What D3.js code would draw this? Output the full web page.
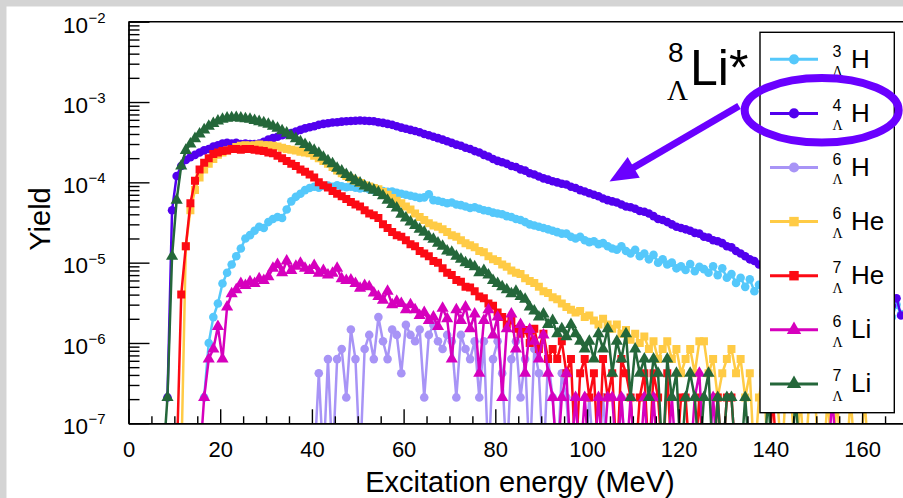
<!DOCTYPE html>
<html>
<head>
<meta charset="utf-8">
<script src="https://cdn.jsdelivr.net/npm/d3@7"></script>
<style>
  body { margin: 0; background: #fff; }
  svg { display: block; }
  text { font-family: "Liberation Sans", Arial, sans-serif; fill: #000; }
</style>
</head>
<body>
<svg id="chart" width="903" height="498"></svg>
<script>
// yields per 1 MeV bin, first bin centre given by *Start
const h3Start = 16.5;
const h3 = [2.1e-7, 1.0e-6, 2.1e-6, 3.1e-6, 5.5e-6, 7.5e-6, 9.5e-6, 1.2e-5, 1.5e-5, 2.0e-5,
  2.2e-5, 2.5e-5, 2.8e-5, 2.7e-5, 3.2e-5, 3.5e-5, 3.7e-5, 3.6e-5, 4.6e-5, 5.8e-5,
  6.6e-5, 7.2e-5, 8.0e-5, 8.5e-5, 8.8e-5, 8.6e-5, 9.0e-5, 9.1e-5, 8.8e-5, 9.2e-5,
  8.9e-5, 8.7e-5, 8.8e-5, 8.6e-5, 8.4e-5, 8.5e-5, 8.2e-5, 8.0e-5, 8.1e-5, 7.8e-5,
  7.6e-5, 7.7e-5, 7.4e-5, 7.2e-5, 7.0e-5, 6.8e-5, 6.6e-5, 6.4e-5, 6.5e-5, 7.1e-5,
  6.0e-5, 5.9e-5, 5.7e-5, 5.5e-5, 5.6e-5, 5.3e-5, 5.2e-5, 5.0e-5, 4.8e-5, 4.9e-5,
  4.7e-5, 4.5e-5, 4.4e-5, 4.2e-5, 4.1e-5, 4.0e-5, 3.8e-5, 3.7e-5, 3.5e-5, 3.4e-5,
  3.2e-5, 3.0e-5, 2.9e-5, 2.8e-5, 2.7e-5, 2.6e-5, 2.5e-5, 2.4e-5, 2.3e-5, 2.3e-5,
  2.1e-5, 2.0e-5, 2.1e-5, 1.9e-5, 1.8e-5, 1.85e-5, 1.7e-5, 1.75e-5, 1.6e-5, 1.5e-5,
  1.45e-5, 1.6e-5, 1.4e-5, 1.3e-5, 1.45e-5, 1.2e-5, 1.3e-5, 1.1e-5, 1.25e-5, 1.0e-5,
  1.1e-5, 9.5e-6, 1.0e-5, 8.5e-6, 9.0e-6, 8.1e-6, 9.6e-6, 7.8e-6, 8.9e-6, 8.3e-6,
  7.5e-6, 9.0e-6, 7.0e-6, 8.5e-6, 6.5e-6, 7.2e-6, 5.6e-6, 6.5e-6, 5.0e-6, 6.2e-6,
  4.4e-6, 5.3e-6, 4.8e-6, 5.0e-6, 4.6e-6, 4.4e-6, 4.7e-6, 4.1e-6, 4.3e-6, 3.9e-6,
  4.0e-6, 3.7e-6, 3.8e-6, 3.5e-6, 3.6e-6, 3.3e-6, 3.4e-6, 3.1e-6, 3.2e-6, 3.0e-6,
  3.1e-6, 2.9e-6, 2.8e-6, 2.9e-6, 2.7e-6, 2.8e-6, 2.6e-6, 2.7e-6, 2.5e-6, 2.7e-6,
  2.1e-6, 3.0e-6, 2.3e-6];

const h4Start = 8.5;
const h4 = [2.1e-7, 4.5e-5, 1.2e-4, 1.6e-4, 1.9e-4, 2.05e-4, 2.2e-4, 2.35e-4, 2.5e-4, 2.6e-4,
  2.8e-4, 2.9e-4, 3.05e-4, 3.1e-4, 3.05e-4, 3.1e-4, 3.0e-4, 3.05e-4, 3.0e-4, 3.0e-4,
  3.05e-4, 3.2e-4, 3.4e-4, 3.55e-4, 3.7e-4, 3.85e-4, 4.0e-4, 4.1e-4, 4.3e-4, 4.5e-4,
  4.7e-4, 4.85e-4, 5.0e-4, 5.2e-4, 5.35e-4, 5.45e-4, 5.55e-4, 5.6e-4, 5.7e-4, 5.75e-4,
  5.8e-4, 5.85e-4, 5.9e-4, 5.85e-4, 5.8e-4, 5.75e-4, 5.6e-4, 5.5e-4, 5.35e-4, 5.2e-4,
  5.0e-4, 4.8e-4, 4.65e-4, 4.5e-4, 4.35e-4, 4.2e-4, 4.0e-4, 3.85e-4, 3.7e-4, 3.55e-4,
  3.4e-4, 3.25e-4, 3.1e-4, 2.95e-4, 2.85e-4, 2.7e-4, 2.6e-4, 2.45e-4, 2.35e-4, 2.2e-4,
  2.1e-4, 1.95e-4, 1.85e-4, 1.78e-4, 1.7e-4, 1.6e-4, 1.55e-4, 1.45e-4, 1.4e-4, 1.3e-4,
  1.25e-4, 1.18e-4, 1.12e-4, 1.08e-4, 1.03e-4, 1.0e-4, 9.6e-5, 9.4e-5, 8.8e-5, 8.5e-5,
  8.0e-5, 7.7e-5, 7.3e-5, 7.0e-5, 6.7e-5, 6.3e-5, 6.0e-5, 5.8e-5, 5.6e-5, 5.3e-5,
  5.0e-5, 4.9e-5, 4.7e-5, 4.4e-5, 4.3e-5, 4.1e-5, 3.8e-5, 3.5e-5, 3.4e-5, 3.2e-5,
  3.0e-5, 2.8e-5, 2.7e-5, 2.6e-5, 2.5e-5, 2.35e-5, 2.3e-5, 2.1e-5, 2.05e-5, 1.9e-5,
  1.85e-5, 1.75e-5, 1.6e-5, 1.55e-5, 1.4e-5, 1.3e-5, 1.2e-5, 1.1e-5, 1.05e-5, 9.5e-6,
  9.0e-6, 8.6e-6, 8.2e-6, 7.8e-6, 7.4e-6, 7.1e-6, 6.8e-6, 6.4e-6, 6.1e-6, 5.8e-6,
  5.6e-6, 5.3e-6, 5.1e-6, 4.9e-6, 4.7e-6, 4.5e-6, 4.3e-6, 4.1e-6, 4.0e-6, 3.8e-6,
  3.7e-6, 3.6e-6, 3.5e-6, 3.4e-6, 3.3e-6, 3.2e-6, 3.1e-6, 3.0e-6, 2.9e-6, 3.6e-6,
  2.2e-6];

const h6Start = 40.5;
const h6 = [0, 4.2e-7, 0, 6.3e-7, 0, 6.3e-7, 8.4e-7, 2.1e-7, 1.47e-6, 6.3e-7,
  0, 8.4e-7, 1.26e-6, 6.3e-7, 2.1e-6, 1.05e-6, 6.3e-7, 1.47e-6, 1.26e-6, 4.2e-7,
  1.68e-6, 1.26e-6, 1.05e-6, 1.47e-6, 2.1e-7, 1.26e-6, 1.68e-6, 1.05e-6, 8.4e-7, 1.26e-6,
  1.05e-6, 2.1e-7, 1.26e-6, 8.4e-7, 6.3e-7, 1.05e-6, 2.1e-7, 1.05e-6, 0, 6.3e-7,
  1.05e-6, 4.2e-7, 0, 6.3e-7, 1.05e-6, 2.1e-7, 6.3e-7, 0, 8.4e-7, 4.2e-7,
  0, 6.3e-7, 2.1e-7, 0, 4.2e-7, 2.1e-7, 0, 2.1e-7, 0, 0,
  2.1e-7, 0, 0, 2.1e-7, 0, 0, 0, 2.1e-7, 0];

const he6Start = 11.5;
const he6 = [0, 1.6e-5, 4.5e-5, 8.0e-5, 1.15e-4, 1.45e-4, 1.7e-4, 1.95e-4, 2.2e-4, 2.35e-4,
  2.5e-4, 2.6e-4, 2.75e-4, 2.85e-4, 2.9e-4, 2.85e-4, 2.9e-4, 2.95e-4, 2.9e-4, 2.9e-4,
  2.85e-4, 2.8e-4, 2.7e-4, 2.6e-4, 2.55e-4, 2.5e-4, 2.4e-4, 2.35e-4, 2.3e-4, 2.15e-4,
  2.0e-4, 1.85e-4, 1.7e-4, 1.55e-4, 1.4e-4, 1.3e-4, 1.2e-4, 1.12e-4, 1.05e-4, 9.8e-5,
  9.2e-5, 8.9e-5, 8.5e-5, 8.2e-5, 7.6e-5, 7.0e-5, 6.4e-5, 5.9e-5, 5.5e-5, 5.0e-5,
  4.6e-5, 4.1e-5, 3.7e-5, 3.4e-5, 3.1e-5, 2.9e-5, 2.8e-5, 2.6e-5, 2.4e-5, 2.2e-5,
  2.1e-5, 1.9e-5, 1.75e-5, 1.65e-5, 1.55e-5, 1.4e-5, 1.35e-5, 1.2e-5, 1.1e-5, 1.05e-5,
  9.5e-6, 8.9e-6, 8.0e-6, 7.5e-6, 7.2e-6, 6.4e-6, 5.9e-6, 5.6e-6, 5.0e-6, 4.4e-6,
  4.2e-6, 3.7e-6, 3.5e-6, 3.1e-6, 2.8e-6, 2.6e-6, 2.4e-6, 2.5e-6, 2.1e-6, 2.2e-6,
  1.9e-6, 1.7e-6, 2.0e-6, 1.7e-6, 1.5e-6, 1.7e-6, 1.3e-6, 1.45e-6, 1.1e-6, 1.3e-6,
  1.0e-6, 1.2e-6, 8.4e-7, 1.05e-6, 6.3e-7, 8.4e-7, 1.05e-6, 6.3e-7, 8.4e-7, 4.2e-7,
  6.3e-7, 8.4e-7, 4.2e-7, 1.05e-6, 1.05e-6, 4.2e-7, 6.3e-7, 2.1e-7, 4.2e-7, 6.3e-7,
  8.4e-7, 4.2e-7, 6.3e-7, 2.1e-7, 4.2e-7, 0, 2.1e-7, 4.2e-7, 0, 2.1e-7,
  2.1e-7, 0, 4.2e-7, 2.1e-7, 0, 2.1e-7, 0, 2.1e-7, 4.2e-7, 0,
  0, 2.1e-7, 0, 2.1e-7, 0, 0, 2.1e-7, 0, 0, 2.1e-7, 0];

const he7Start = 10.5;
const he7 = [0, 4.0e-6, 1.6e-5, 5.5e-5, 1.05e-4, 1.45e-4, 1.75e-4, 2.0e-4, 2.25e-4, 2.35e-4,
  2.45e-4, 2.5e-4, 2.6e-4, 2.6e-4, 2.55e-4, 2.6e-4, 2.6e-4, 2.55e-4, 2.5e-4, 2.45e-4,
  2.35e-4, 2.3e-4, 2.15e-4, 2.0e-4, 1.85e-4, 1.7e-4, 1.6e-4, 1.45e-4, 1.35e-4, 1.25e-4,
  1.15e-4, 1.0e-4, 9.2e-5, 8.6e-5, 7.8e-5, 7.2e-5, 6.7e-5, 6.2e-5, 5.7e-5, 5.3e-5,
  5.0e-5, 4.5e-5, 4.1e-5, 3.9e-5, 3.6e-5, 3.0e-5, 2.7e-5, 2.4e-5, 2.2e-5, 2.1e-5,
  1.9e-5, 1.7e-5, 1.6e-5, 1.4e-5, 1.3e-5, 1.2e-5, 1.05e-5, 1.0e-5, 8.5e-6, 7.5e-6,
  7.0e-6, 6.1e-6, 5.8e-6, 5.0e-6, 4.9e-6, 4.4e-6, 3.8e-6, 3.6e-6, 3.1e-6, 2.9e-6,
  2.4e-6, 2.1e-6, 1.7e-6, 1.9e-6, 1.5e-6, 1.3e-6, 1.45e-6, 1.0e-6, 1.5e-6, 8.4e-7,
  1.3e-6, 6.3e-7, 8.4e-7, 6.3e-7, 1.05e-6, 4.2e-7, 6.3e-7, 0, 4.2e-7, 6.3e-7,
  2.1e-7, 4.2e-7, 0, 6.3e-7, 2.1e-7, 4.2e-7, 0, 6.3e-7, 4.2e-7, 2.1e-7,
  0, 2.1e-7, 4.2e-7, 0, 4.2e-7, 2.1e-7, 0, 4.2e-7, 0, 0,
  2.1e-7, 2.1e-7, 0, 0, 2.1e-7, 0, 0, 0, 2.1e-7, 0,
  2.1e-7, 2.1e-7, 0, 0, 0, 0, 0, 0, 0, 0, 2.1e-7, 0];

const li6Start = 15.5;
const li6 = [0, 2.1e-7, 6.3e-7, 8.4e-7, 1.6e-6, 6.3e-7, 2.8e-6, 4.1e-6, 4.6e-6, 5.5e-6,
  5.2e-6, 5.8e-6, 5.5e-6, 6.3e-6, 6.0e-6, 6.7e-6, 8.5e-6, 9.5e-6, 7.5e-6, 1.05e-5,
  8.0e-6, 9.0e-6, 9.8e-6, 8.5e-6, 8.0e-6, 9.2e-6, 7.4e-6, 8.0e-6, 7.0e-6, 7.4e-6,
  8.5e-6, 6.3e-6, 6.0e-6, 6.1e-6, 5.5e-6, 4.8e-6, 5.2e-6, 5.0e-6, 4.2e-6, 3.8e-6,
  3.4e-6, 4.4e-6, 3.0e-6, 3.3e-6, 3.1e-6, 2.6e-6, 3.0e-6, 2.6e-6, 2.2e-6, 2.4e-6,
  1.9e-6, 2.1e-6, 1.6e-6, 2.7e-6, 2.0e-6, 6.3e-7, 2.6e-6, 1.9e-6, 2.8e-6, 1.5e-6,
  2.3e-6, 4.2e-7, 1.9e-6, 2.6e-6, 1.26e-6, 2.1e-6, 2.1e-7, 1.5e-6, 2.3e-6, 8.4e-7,
  1.7e-6, 4.2e-7, 1.47e-6, 1.05e-6, 6.3e-7, 1.26e-6, 4.2e-7, 2.1e-7, 0, 2.1e-7,
  4.2e-7, 0, 2.1e-7, 0, 2.1e-7, 0, 0, 2.1e-7, 0, 2.1e-7,
  2.1e-7, 0, 2.1e-7, 0, 2.1e-7, 0, 0, 2.1e-7, 0, 2.1e-7,
  0, 0, 0, 2.1e-7, 0, 0, 0, 0, 2.1e-7, 4.2e-7,
  0, 0, 2.1e-7, 0, 0, 0, 0, 0, 0, 0,
  0, 0, 0, 0, 0, 0, 0, 0, 0, 0, 0, 0, 0, 0, 0, 0, 0, 0, 2.1e-7, 0];

const li7Start = 7.5;
const li7 = [0, 2.1e-7, 1.2e-5, 6.0e-5, 1.6e-4, 2.5e-4, 3.0e-4, 3.5e-4, 4.0e-4, 4.5e-4,
  5.0e-4, 5.4e-4, 5.8e-4, 6.1e-4, 6.3e-4, 6.35e-4, 6.4e-4, 6.3e-4, 6.2e-4, 6.1e-4,
  5.9e-4, 5.7e-4, 5.5e-4, 5.3e-4, 5.0e-4, 4.7e-4, 4.4e-4, 4.1e-4, 3.8e-4, 3.5e-4,
  3.2e-4, 2.95e-4, 2.7e-4, 2.5e-4, 2.3e-4, 2.05e-4, 1.85e-4, 1.7e-4, 1.5e-4, 1.38e-4,
  1.25e-4, 1.15e-4, 1.05e-4, 9.8e-5, 9.0e-5, 8.5e-5, 8.0e-5, 7.5e-5, 6.8e-5, 6.0e-5,
  5.3e-5, 4.8e-5, 4.0e-5, 3.6e-5, 3.2e-5, 2.9e-5, 2.6e-5, 2.4e-5, 2.1e-5, 1.95e-5,
  1.75e-5, 1.6e-5, 1.4e-5, 1.35e-5, 1.2e-5, 1.1e-5, 1.0e-5, 9.5e-6, 8.9e-6, 7.5e-6,
  8.0e-6, 7.0e-6, 6.0e-6, 5.5e-6, 5.0e-6, 4.6e-6, 4.1e-6, 4.4e-6, 3.8e-6, 3.5e-6,
  2.8e-6, 2.5e-6, 2.1e-6, 2.3e-6, 1.7e-6, 1.9e-6, 1.3e-6, 1.5e-6, 1.2e-6, 1.7e-6,
  1.3e-6, 1.05e-6, 8.4e-7, 1.05e-6, 6.3e-7, 1.3e-6, 8.4e-7, 1.5e-6, 4.2e-7, 1.05e-6,
  6.3e-7, 1.3e-6, 2.1e-7, 8.4e-7, 4.2e-7, 6.3e-7, 2.1e-7, 6.3e-7, 4.2e-7, 0,
  6.3e-7, 2.1e-7, 4.2e-7, 0, 2.1e-7, 4.2e-7, 2.1e-7, 0, 2.1e-7, 4.2e-7,
  0, 2.1e-7, 0, 2.1e-7, 2.1e-7, 0, 0, 2.1e-7, 0, 0,
  0, 0, 2.1e-7, 0, 0, 0, 0, 0, 2.1e-7, 0];

const massNumbers = ["3", "4", "6", "6", "7", "6", "7"];
const elements = ["H", "H", "H", "He", "He", "Li", "Li"];
const xMajor = [0, 20, 40, 60, 80, 100, 120, 140, 160];
const yDecades = [-7, -6, -5, -4, -3, -2];

const series = [
  {start: h3Start, values: h3, color: "#55c8fb", symbol: d3.symbolCircle},
  {start: h4Start, values: h4, color: "#5200ee", symbol: d3.symbolCircle},
  {start: h6Start, values: h6, color: "#a894f6", symbol: d3.symbolCircle},
  {start: he6Start, values: he6, color: "#ffcb45", symbol: d3.symbolSquare},
  {start: he7Start, values: he7, color: "#fc0a14", symbol: d3.symbolSquare},
  {start: li6Start, values: li6, color: "#d600bd", symbol: d3.symbolTriangle},
  {start: li7Start, values: li7, color: "#24673a", symbol: d3.symbolTriangle}
];
series.forEach((s, i) => { s.mass = massNumbers[i]; s.elem = elements[i]; });

const svg = d3.select("#chart");
const W = 903, H = 498;
const plotLeft = 128.5, plotTop = 21.7, plotBottom = 423.3;

const x = d3.scaleLinear().domain([0, 169]).range([plotLeft, 903.4]);
const y = d3.scaleLog().domain([1e-7, 1e-2]).range([plotBottom, plotTop]);

// page frame
svg.append("rect").attr("width", W).attr("height", H).attr("fill", "#d4d4d4");
svg.append("rect").attr("x", 6.5).attr("y", 6.5).attr("width", W).attr("height", H).attr("fill", "#fff");

svg.append("clipPath").attr("id", "plotClip").append("rect")
  .attr("x", plotLeft).attr("y", plotTop).attr("width", W - plotLeft).attr("height", plotBottom - plotTop);

const plot = svg.append("g").attr("clip-path", "url(#plotClip)");

const line = d3.line()
  .x(d => x(d.e))
  .y(d => d.v > 0 ? y(d.v) : plotBottom + 40);

function sizeFor(sym) {
  return sym === d3.symbolCircle ? 58 : sym === d3.symbolSquare ? 64 : 64;
}

series.forEach(s => {
  const pts = s.values.map((v, i) => ({e: s.start + i, v: v}));
  const g = plot.append("g");
  g.append("path").datum(pts)
    .attr("d", line)
    .attr("fill", "none")
    .attr("stroke", s.color)
    .attr("stroke-width", 2.5)
    .attr("stroke-linejoin", "round");
  g.selectAll("path.mk").data(pts.filter(d => d.v > 0)).enter().append("path")
    .attr("class", "mk")
    .attr("transform", d => `translate(${x(d.e)},${y(d.v)})`)
    .attr("d", d3.symbol().type(s.symbol).size(sizeFor(s.symbol)))
    .attr("fill", s.color);
});

// axes
const yMinor = [];
yDecades.slice(0, -1).forEach(k => { for (let m = 2; m <= 9; m++) yMinor.push(m * Math.pow(10, k)); });
const yMajorVals = yDecades.map(k => Math.pow(10, k));

svg.append("g").attr("transform", `translate(${plotLeft},0)`)
  .call(d3.axisLeft(y).tickValues(yMinor).tickSize(-11).tickSizeOuter(0).tickFormat(""));
svg.append("g").attr("transform", `translate(${plotLeft},0)`)
  .call(d3.axisLeft(y).tickValues(yMajorVals).tickSize(-21).tickSizeOuter(0).tickFormat(""));

const xMinor = d3.range(5, 170, 5).filter(v => v % 20 !== 0);
svg.append("g").attr("transform", `translate(0,${plotBottom})`)
  .call(d3.axisBottom(x).tickValues(xMinor).tickSize(-7).tickSizeOuter(0).tickFormat(""));
svg.append("g").attr("class", "xaxis").attr("transform", `translate(0,${plotBottom})`)
  .call(d3.axisBottom(x).tickValues(xMajor).tickSize(-14).tickSizeOuter(0).tickPadding(17.8).tickFormat(d3.format("d")));

svg.selectAll(".domain, .tick line").attr("stroke", "#000").attr("stroke-width", 1.4);
svg.selectAll(".xaxis .tick text").attr("font-size", 22).attr("fill", "#000");

// top frame
svg.append("line").attr("x1", plotLeft).attr("x2", W).attr("y1", plotTop).attr("y2", plotTop)
  .attr("stroke", "#000").attr("stroke-width", 1.4);

// y labels 10^k
yDecades.forEach(k => {
  const ty = y(Math.pow(10, k));
  svg.append("text").attr("x", 88).attr("y", ty + 10.8).attr("text-anchor", "end")
    .attr("font-size", 22.5).text("10");
  svg.append("text").attr("x", 88.5).attr("y", ty + 1).attr("font-size", 15)
    .text("\u2212" + Math.abs(k));
});

// axis titles
svg.append("text").attr("x", 520).attr("y", 491.5).attr("text-anchor", "middle")
  .attr("font-size", 29).text("Excitation energy (MeV)");
svg.append("text").attr("transform", "translate(50,219) rotate(-90)").attr("text-anchor", "middle")
  .attr("font-size", 29).text("Yield");

// legend
const serif = "'Liberation Serif', 'DejaVu Serif', serif";
const lg = svg.append("g");
lg.append("rect").attr("x", 760).attr("y", 32.3).attr("width", 134.3).attr("height", 380.4)
  .attr("fill", "#fff").attr("stroke", "#000").attr("stroke-width", 1.4);
series.forEach((s, i) => {
  const ry = 59.3 + i * 54.1;
  lg.append("line").attr("x1", 770).attr("x2", 818).attr("y1", ry).attr("y2", ry)
    .attr("stroke", s.color).attr("stroke-width", 3);
  lg.append("path").attr("transform", `translate(794,${ry})`)
    .attr("d", d3.symbol().type(s.symbol).size(sizeFor(s.symbol) * 1.4))
    .attr("fill", s.color);
  lg.append("text").attr("x", 832.5).attr("y", ry - 2.6).attr("font-size", 16).text(s.mass);
  lg.append("text").attr("x", 832.5).attr("y", ry + 16.8).attr("font-size", 14)
    .style("font-family", serif).text("\u039b");
  lg.append("text").attr("x", 851).attr("y", ry + 8.4).attr("font-size", 26).text(s.elem);
});

// annotation: 8ΛLi* with ellipse and arrow
const annColor = "#6a00ff";
svg.append("text").attr("x", 668).attr("y", 61.5).attr("font-size", 28).text("8");
svg.append("text").attr("x", 667).attr("y", 99.5).attr("font-size", 29)
  .style("font-family", serif).text("\u039b");
svg.append("text").attr("x", 690).attr("y", 85).attr("font-size", 50).text("Li*");

svg.append("ellipse").attr("cx", 821.7).attr("cy", 110.3).attr("rx", 77).attr("ry", 32.3)
  .attr("fill", "none").attr("stroke", annColor).attr("stroke-width", 8);

const tail = [739, 106], tip = [609.5, 181.5];
const ang = Math.atan2(tip[1] - tail[1], tip[0] - tail[0]);
const headLen = 28, headHalf = 12;
const baseX = tip[0] - headLen * Math.cos(ang), baseY = tip[1] - headLen * Math.sin(ang);
svg.append("line").attr("x1", tail[0]).attr("y1", tail[1]).attr("x2", baseX + 3 * Math.cos(ang)).attr("y2", baseY + 3 * Math.sin(ang))
  .attr("stroke", annColor).attr("stroke-width", 7);
svg.append("polygon")
  .attr("points", [
    tip,
    [baseX + headHalf * Math.sin(ang), baseY - headHalf * Math.cos(ang)],
    [baseX - headHalf * Math.sin(ang), baseY + headHalf * Math.cos(ang)]
  ].map(p => p.join(",")).join(" "))
  .attr("fill", annColor);
</script>
</body>
</html>
